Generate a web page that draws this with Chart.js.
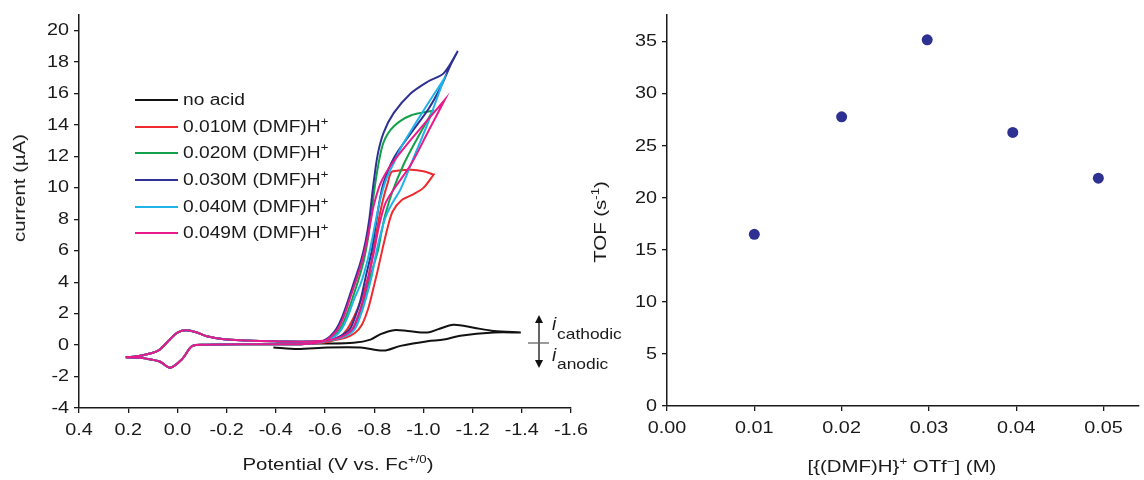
<!DOCTYPE html>
<html>
<head>
<meta charset="utf-8">
<script src="https://cdn.jsdelivr.net/npm/chart.js@4.4.0/dist/chart.umd.min.js"></script>
<style>
  body { margin: 0; background: #fff; }
  #wrap { position: relative; width: 1144px; height: 480px; overflow: hidden;
          font-family: "Liberation Sans", Arial, sans-serif; color: #1a1a1a; }
  canvas { position: absolute; top: 0; }
  .t { position: absolute; white-space: nowrap; font-size: 17px;
       transform: translate(-50%, -50%) scaleX(1.2); }
  .rot { transform: translate(-50%, -50%) rotate(-90deg) scaleX(1.2); }
  .t sup { font-size: 11px; vertical-align: 7px; line-height: 0; }
  .leg { position: absolute; left: 135px; width: 43px; height: 2px; }
  .lt { position: absolute; left: 183px; white-space: nowrap; font-size: 16px;
        transform-origin: left center; transform: translateY(-50%) scaleX(1.2); }
  .lt sup { font-size: 11px; vertical-align: 7px; line-height: 0; }
  .sub { position: absolute; left: 557px; white-space: nowrap; font-size: 14.5px;
         transform-origin: left center; transform: translateY(-50%) scaleX(1.2); }
  .ii { position: absolute; font-style: italic; font-size: 19px; transform: translate(-50%, -50%); }
</style>
</head>
<body>
<div id="wrap">
  <canvas id="cv" width="640" height="480" style="left:0"></canvas>
  <canvas id="tof" width="544" height="480" style="left:600px"></canvas>

  <div class="t rot" style="left:20px; top:188px">current (µA)</div>
  <div class="t" style="left:338px; top:465px">Potential (V vs. Fc<sup>+/0</sup>)</div>
  <div class="t rot" style="left:601px; top:222px">TOF (s<sup>-1</sup>)</div>
  <div class="t" style="left:902px; top:467px">[{(DMF)H}<sup>+</sup> OTf<sup>−</sup>] (M)</div>

  <div class="ii" style="left:554px; top:324px">i</div>
  <div class="sub" style="top:334px">cathodic</div>
  <div class="ii" style="left:554px; top:355px">i</div>
  <div class="sub" style="top:364px">anodic</div>

  <div id="legend"></div>
</div>

<script>
// ferrocene couple, shared by every acid scan
const fcFwdV = [0.21, 0.15, 0.08, 0.03, 0.0, -0.036, -0.08, -0.12, -0.19, -0.27, -0.40, -0.50];
const fcFwdI = [-0.78, -0.67, -0.37, 0.37, 0.8, 0.94, 0.8, 0.56, 0.37, 0.3, 0.24, 0.22];
const fcRevV = [-0.50, -0.30, -0.12, -0.06, -0.02, 0.029, 0.07, 0.10, 0.15, 0.21];
const fcRevI = [0.06, 0.05, 0.02, -0.06, -0.875, -1.44, -1.06, -0.94, -0.8, -0.78];

// no acid
const noAcidFwdV = [-0.40, -0.50, -0.61, -0.716, -0.785, -0.826, -0.88, -0.936, -1.017, -1.058, -1.123, -1.205, -1.286, -1.396];
const noAcidFwdI = [0.1, 0.1, 0.1, 0.15, 0.35, 0.7, 0.95, 0.9, 0.8, 1.0, 1.3, 1.1, 0.9, 0.8];
const noAcidRevV = [-1.396, -1.286, -1.15, -1.083, -1.017, -0.907, -0.838, -0.745, -0.61, -0.488, -0.39];
const noAcidRevI = [0.8, 0.8, 0.6, 0.35, 0.25, -0.05, -0.35, -0.15, -0.15, -0.25, -0.15];

// 0.010 M
const redFwdV = [-0.56, -0.63, -0.68, -0.72, -0.75, -0.775, -0.795, -0.815, -0.835, -0.855, -0.875, -0.91, -0.96, -1.0, -1.042];
const redFwdI = [0.23, 0.3, 0.45, 0.75, 1.3, 2.3, 3.5, 4.8, 6.2, 7.5, 8.5, 9.2, 9.6, 10.0, 10.85];
const redRevV = [-1.042, -1.0, -0.95, -0.90, -0.87, -0.855, -0.84, -0.825, -0.81, -0.795, -0.775, -0.745, -0.718, -0.69, -0.66, -0.62, -0.56, -0.50];
const redRevI = [10.85, 11.05, 11.15, 11.1, 11.0, 10.3, 9.5, 8.5, 7.2, 5.8, 4.3, 2.8, 1.8, 1.0, 0.5, 0.22, 0.1, 0.06];

// 0.020 M
const greenFwdV = [-0.56, -0.62, -0.675, -0.715, -0.74, -0.76, -0.785, -0.815, -0.83, -0.845, -0.875, -0.92, -0.97, -1.038];
const greenFwdI = [0.23, 0.3, 0.55, 1.0, 1.9, 2.9, 4.4, 6.0, 7.2, 8.3, 9.8, 11.5, 13.0, 14.9];
const greenRevV = [-1.038, -0.948, -0.879, -0.838, -0.816, -0.80, -0.787, -0.775, -0.758, -0.735, -0.71, -0.685, -0.66, -0.635, -0.60, -0.55, -0.50];
const greenRevI = [14.9, 14.6, 13.9, 12.9, 11.4, 9.8, 8.2, 6.8, 5.4, 4.1, 2.9, 1.8, 1.0, 0.55, 0.25, 0.1, 0.06];

// 0.030 M
const blueFwdV = [-0.56, -0.62, -0.66, -0.70, -0.725, -0.745, -0.765, -0.79, -0.805, -0.82, -0.838, -0.88, -0.95, -1.02, -1.07, -1.11, -1.14];
const blueFwdI = [0.24, 0.33, 0.55, 1.0, 1.9, 2.9, 4.3, 6.0, 7.5, 9.0, 10.3, 11.9, 13.5, 15.0, 16.4, 17.8, 18.7];
const blueRevV = [-1.14, -1.083, -1.017, -0.948, -0.879, -0.838, -0.814, -0.795, -0.78, -0.765, -0.745, -0.72, -0.695, -0.67, -0.645, -0.62, -0.59, -0.55, -0.50];
const blueRevI = [18.7, 17.3, 16.75, 16.0, 14.75, 13.5, 12.1, 10.0, 8.0, 6.6, 5.3, 4.1, 2.9, 1.8, 1.0, 0.55, 0.25, 0.1, 0.06];

// 0.040 M
const cyanFwdV = [-0.56, -0.62, -0.68, -0.72, -0.745, -0.765, -0.79, -0.81, -0.83, -0.85, -0.88, -0.907, -0.96, -1.02, -1.083];
const cyanFwdI = [0.23, 0.3, 0.55, 1.0, 1.9, 2.9, 4.4, 6.0, 7.3, 8.3, 9.2, 9.9, 11.9, 14.2, 16.9];
const cyanRevV = [-1.083, -1.02, -0.96, -0.91, -0.88, -0.85, -0.825, -0.805, -0.79, -0.77, -0.745, -0.718, -0.692, -0.667, -0.64, -0.60, -0.55, -0.50];
const cyanRevI = [16.9, 15.4, 13.9, 12.6, 11.6, 10.6, 9.3, 7.8, 6.6, 5.2, 3.9, 2.9, 1.8, 1.0, 0.55, 0.25, 0.1, 0.06];

// 0.049 M
const pinkFwdV = [-0.56, -0.62, -0.67, -0.71, -0.735, -0.755, -0.778, -0.80, -0.82, -0.845, -0.879, -0.95, -1.02, -1.087];
const pinkFwdI = [0.24, 0.33, 0.55, 1.0, 1.9, 2.9, 4.4, 6.0, 7.6, 9.0, 9.9, 11.5, 13.6, 15.6];
const pinkRevV = [-1.087, -1.0, -0.93, -0.87, -0.826, -0.80, -0.787, -0.77, -0.75, -0.726, -0.70, -0.676, -0.651, -0.625, -0.595, -0.55, -0.50];
const pinkRevI = [15.6, 14.0, 12.7, 11.5, 10.3, 9.0, 8.0, 6.6, 5.3, 4.1, 2.9, 1.8, 1.0, 0.55, 0.25, 0.1, 0.06];

const legendLabels = ['no acid', '0.010M (DMF)H', '0.020M (DMF)H', '0.030M (DMF)H', '0.040M (DMF)H', '0.049M (DMF)H'];
const colors = ['#111111', '#ee2a2e', '#13a04b', '#2e3192', '#1fb3ea', '#e8198b'];

// right panel
const acidConc = [0.0100, 0.0200, 0.0298, 0.0396, 0.0494];
const tof = [16.5, 27.8, 35.2, 26.3, 21.9];

const cvTicksX = { min: -1.6, max: 0.4, step: 0.2 };
const cvTicksY = { min: -4, max: 21, step: 2 };

function pts(vs, is) {
    return vs.map((v, k) => ({ x: v, y: is[k] }));
}

function acidScan(fwdV, fwdI, revV, revI) {
    return [].concat(pts(fcFwdV, fcFwdI), pts(fwdV, fwdI), pts(revV, revI), pts(fcRevV, fcRevI));
}

const scans = [
    pts(noAcidFwdV, noAcidFwdI).concat(pts(noAcidRevV, noAcidRevI)),
    acidScan(redFwdV, redFwdI, redRevV, redRevI),
    acidScan(greenFwdV, greenFwdI, greenRevV, greenRevI),
    acidScan(blueFwdV, blueFwdI, blueRevV, blueRevI),
    acidScan(cyanFwdV, cyanFwdI, cyanRevV, cyanRevI),
    acidScan(pinkFwdV, pinkFwdI, pinkRevV, pinkRevI)
];

// legend (html so the superscript stays text)
const legendTops = [100, 127, 153, 180, 207, 233];
const legendEl = document.getElementById('legend');
legendLabels.forEach((label, k) => {
    const line = document.createElement('div');
    line.className = 'leg';
    line.style.top = (legendTops[k] - 1) + 'px';
    line.style.background = colors[k];
    legendEl.appendChild(line);
    const txt = document.createElement('div');
    txt.className = 'lt';
    txt.style.top = legendTops[k] + 'px';
    txt.innerHTML = k === 0 ? label : label + '<sup>+</sup>';
    legendEl.appendChild(txt);
});

// the source figure uses a wide sans face, stretch canvas text a bit
const wideText = {
    id: 'wideText',
    beforeDraw(chart) {
        const ctx = chart.ctx;
        if (ctx.isWide) return;
        ctx.isWide = true;
        const fill = ctx.fillText;
        ctx.fillText = function (t, x, y) {
            this.save();
            this.translate(x, y);
            this.scale(1.2, 1);
            fill.call(this, t, 0, 0);
            this.restore();
        };
    }
};

// current direction marker next to the cv
const currentArrow = {
    id: 'currentArrow',
    afterDraw(chart) {
        const ctx = chart.ctx;
        ctx.save();
        ctx.strokeStyle = '#111';
        ctx.fillStyle = '#111';
        ctx.lineWidth = 1.3;
        ctx.beginPath();
        ctx.moveTo(539, 322);
        ctx.lineTo(539, 361);
        ctx.stroke();
        ctx.beginPath();
        ctx.moveTo(539, 315); ctx.lineTo(535, 323); ctx.lineTo(543, 323); ctx.closePath();
        ctx.fill();
        ctx.beginPath();
        ctx.moveTo(539, 368); ctx.lineTo(535, 360); ctx.lineTo(543, 360); ctx.closePath();
        ctx.fill();
        ctx.strokeStyle = '#666';
        ctx.beginPath();
        ctx.moveTo(528, 343);
        ctx.lineTo(549, 343);
        ctx.stroke();
        ctx.restore();
    }
};

const tickFont = { family: '"Liberation Sans", Arial, sans-serif', size: 16.5 };
const ink = '#1a1a1a';

function axisStyle() {
    return {
        grid: { drawOnChartArea: false, color: ink, tickLength: 5, lineWidth: 1.3 },
        border: { color: ink, width: 1.5 }
    };
}

new Chart(document.getElementById('cv'), {
    type: 'scatter',
    data: {
        datasets: scans.map((d, k) => ({
            label: legendLabels[k],
            data: d,
            showLine: true,
            borderColor: colors[k],
            borderWidth: 2,
            pointRadius: 0,
            tension: 0.3,
            fill: false,
            order: 5 - k
        }))
    },
    options: {
        responsive: false,
        animation: false,
        layout: { padding: { top: 10, right: 69, left: 0, bottom: 0 } },
        plugins: { legend: { display: false }, tooltip: { enabled: false } },
        scales: {
            x: {
                type: 'linear',
                reverse: true,
                min: cvTicksX.min,
                max: cvTicksX.max,
                ...axisStyle(),
                ticks: {
                    stepSize: cvTicksX.step, includeBounds: false, autoSkip: false, maxRotation: 0,
                    color: ink, font: tickFont, padding: 8,
                    callback: v => Math.abs(v) < 1e-9 ? '0.0' : v.toFixed(1)
                },
                afterFit(scale) { scale.height = 72; }
            },
            y: {
                type: 'linear',
                min: cvTicksY.min,
                max: cvTicksY.max,
                ...axisStyle(),
                ticks: {
                    stepSize: cvTicksY.step, includeBounds: false, autoSkip: false,
                    color: ink, font: tickFont, padding: 5
                },
                afterFit(scale) { scale.width = 79; }
            }
        }
    },
    plugins: [wideText, currentArrow]
});

new Chart(document.getElementById('tof'), {
    type: 'scatter',
    data: {
        datasets: [{
            label: 'TOF',
            data: pts(acidConc, tof),
            pointRadius: 5.5,
            pointBackgroundColor: '#2e3192',
            pointBorderWidth: 0
        }]
    },
    options: {
        responsive: false,
        animation: false,
        layout: { padding: { top: 13, right: 0, left: 0, bottom: 0 } },
        plugins: { legend: { display: false }, tooltip: { enabled: false } },
        scales: {
            x: {
                type: 'linear',
                min: 0,
                max: 0.054,
                ...axisStyle(),
                ticks: {
                    stepSize: 0.01, includeBounds: false, autoSkip: false, maxRotation: 0,
                    color: ink, font: tickFont, padding: 8,
                    callback: v => v.toFixed(2)
                },
                afterFit(scale) { scale.height = 74; }
            },
            y: {
                type: 'linear',
                min: 0,
                max: 37.6,
                ...axisStyle(),
                ticks: {
                    stepSize: 5, includeBounds: false, autoSkip: false,
                    color: ink, font: tickFont, padding: 5
                },
                afterFit(scale) { scale.width = 67; }
            }
        }
    },
    plugins: [wideText]
});
</script>
</body>
</html>
